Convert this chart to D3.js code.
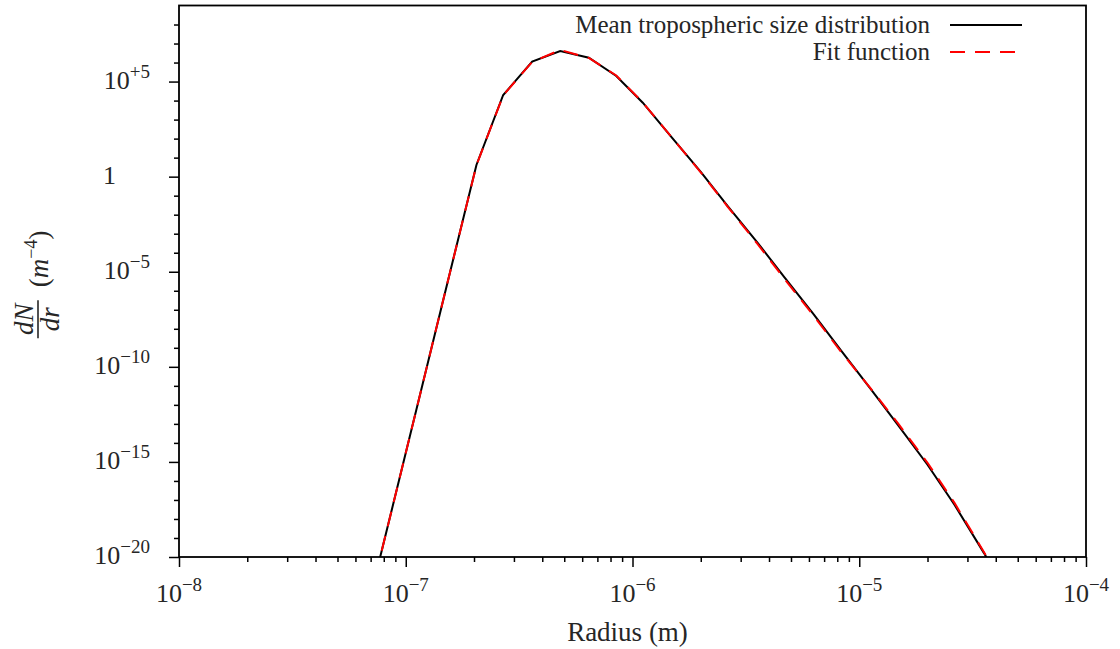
<!DOCTYPE html>
<html>
<head>
<meta charset="utf-8">
<script src="https://cdn.jsdelivr.net/npm/d3@7"></script>
<style>
  body { margin: 0; background: #fff; }
  svg { display: block; }
</style>
</head>
<body>
<svg id="chart" width="1120" height="649"></svg>
<script>
// radius (m) of the sampled points
var radius = [6.53e-8, 8.69e-8, 1.156e-7, 1.538e-7, 2.05e-7, 2.69e-7, 3.61e-7, 4.80e-7,
  6.42e-7, 8.48e-7, 1.11e-6, 1.48e-6, 2.00e-6, 2.63e-6, 3.55e-6, 4.68e-6, 6.31e-6,
  8.32e-6, 1.12e-5, 1.48e-5, 2.00e-5, 2.63e-5, 3.55e-5, 4.68e-5];
// mean tropospheric size distribution dN/dr (m^-4)
var meanDist = [3.2e-24, 3.2e-18, 3.4e-12, 3.7e-6, 4.1, 1.97e4, 1.11e6, 4.06e6,
  1.80e6, 1.96e5, 7.76e3, 126, 1.78, 2.82e-2, 3.55e-4, 5.0e-6, 5.6e-8,
  7.1e-10, 7.1e-12, 8.9e-14, 7.1e-16, 5.6e-18, 1.6e-20, 5.0e-23];
// fit function
var fitDist = [3.2e-24, 3.2e-18, 3.4e-12, 3.7e-6, 4.0, 1.9e4, 1.08e6, 4.6e6,
  1.75e6, 2.1e5, 7.9e3, 130, 1.7, 2.6e-2, 3.0e-4, 4.2e-6, 4.7e-8,
  6.0e-10, 7.5e-12, 1.1e-13, 9.0e-16, 7.0e-18, 1.8e-20, 4.5e-23];

var xMajor = [1e-8, 1e-7, 1e-6, 1e-5, 1e-4];
var xMajorExp = ["\u22128", "\u22127", "\u22126", "\u22125", "\u22124"];
var yMajor = [1e-20, 1e-15, 1e-10, 1e-5, 1, 1e5];
var yMajorExp = ["\u221220", "\u221215", "\u221210", "\u22125", "", "+5"];

var legendLabels = ["Mean tropospheric size distribution", "Fit function"];

var FONT = "'Liberation Serif', 'Times New Roman', serif";
var INK = "#262626";

var svg = d3.select("#chart");
var width = +svg.attr("width");
var height = +svg.attr("height");
var margin = {top: 5.5, right: 34, bottom: 92, left: 179};

var x = d3.scaleLog().domain([1e-8, 1e-4]).range([margin.left, width - margin.right]);
var y = d3.scaleLog().domain([1e-20, 1e9]).range([height - margin.bottom, margin.top]);

// minor ticks
var xMinor = [];
for (var e = -8; e < -4; e++) {
  for (var m = 2; m <= 9; m++) xMinor.push(m * Math.pow(10, e));
}
var yMinor = [];
for (var e2 = -19; e2 <= 8; e2++) {
  if (e2 % 5 !== 0) yMinor.push(Math.pow(10, e2));
}

function txt(sel, size) {
  return sel.style("font-family", FONT).style("font-size", size + "px").style("fill", INK);
}

svg.append("defs").append("clipPath").attr("id", "clip")
  .append("rect")
    .attr("x", margin.left).attr("y", margin.top)
    .attr("width", width - margin.left - margin.right)
    .attr("height", height - margin.top - margin.bottom);

var line = d3.line()
  .x(function(d) { return x(d[0]); })
  .y(function(d) { return y(d[1]); });

var plot = svg.append("g").attr("clip-path", "url(#clip)");

plot.append("path")
  .datum(d3.zip(radius, meanDist))
  .attr("fill", "none")
  .attr("stroke", "#000")
  .attr("stroke-width", 2)
  .attr("d", line);

plot.append("path")
  .datum(d3.zip(radius, fitDist))
  .attr("fill", "none")
  .attr("stroke", "#ff0000")
  .attr("stroke-width", 2)
  .attr("stroke-dasharray", "15,10")
  .attr("d", line);

// axes
var gx = svg.append("g").attr("transform", "translate(0," + (height - margin.bottom) + ")");
gx.call(d3.axisBottom(x).tickValues(xMinor).tickSize(5).tickFormat(""));
gx.append("g").call(d3.axisBottom(x).tickValues(xMajor).tickSize(10).tickFormat(""));
gx.selectAll(".domain").remove();

var gy = svg.append("g").attr("transform", "translate(" + margin.left + ",0)");
gy.call(d3.axisLeft(y).tickValues(yMinor).tickSize(5).tickFormat(""));
gy.append("g").call(d3.axisLeft(y).tickValues(yMajor).tickSize(10).tickFormat(""));
gy.selectAll(".domain").remove();

svg.selectAll(".tick line").attr("stroke", "#000").attr("stroke-width", 1.5);

// frame
svg.append("rect")
  .attr("x", margin.left).attr("y", margin.top)
  .attr("width", width - margin.left - margin.right)
  .attr("height", height - margin.top - margin.bottom)
  .attr("fill", "none")
  .attr("stroke", "#000")
  .attr("stroke-width", 1.8);

// x tick labels
xMajor.forEach(function(v, i) {
  var t = txt(svg.append("text"), 26)
    .attr("x", x(v))
    .attr("y", height - margin.bottom + 45)
    .attr("text-anchor", "middle");
  t.append("tspan").text("10");
  t.append("tspan").attr("dy", -11).style("font-size", "19px").text(xMajorExp[i]);
});

// y tick labels
yMajor.forEach(function(v, i) {
  var t = txt(svg.append("text"), 26)
    .attr("y", y(v) + 7);
  if (yMajorExp[i] === "") {
    t.attr("x", margin.left - 63).attr("text-anchor", "end").text("1");
  } else {
    t.attr("x", margin.left - 29).attr("text-anchor", "end");
    t.append("tspan").text("10");
    t.append("tspan").attr("dy", -11).style("font-size", "19px").text(yMajorExp[i]);
  }
});

// x label
txt(svg.append("text"), 27)
  .attr("x", (margin.left + width - margin.right) / 2 - 5)
  .attr("y", height - 8)
  .attr("text-anchor", "middle")
  .text("Radius (m)");

// y label: dN/dr (m^-4)
var yl = svg.append("g")
  .attr("transform", "translate(38," + ((margin.top + height - margin.bottom) / 2) + ") rotate(-90)");
txt(yl.append("text"), 27).attr("x", -38).attr("y", -5).attr("text-anchor", "middle")
  .style("font-style", "italic").text("dN");
yl.append("line").attr("x1", -57).attr("x2", -19).attr("y1", 0).attr("y2", 0)
  .attr("stroke", INK).attr("stroke-width", 1.6);
txt(yl.append("text"), 27).attr("x", -38).attr("y", 21).attr("text-anchor", "middle")
  .style("font-style", "italic").text("dr");
var yu = txt(yl.append("text"), 27).attr("x", -6).attr("y", 10);
yu.append("tspan").text("(");
yu.append("tspan").style("font-style", "italic").text("m");
yu.append("tspan").attr("dy", -11).style("font-size", "18px").text("\u22124");
yu.append("tspan").attr("dy", 11).text(")");

// legend
var legend = svg.append("g");
var legendY = [25, 52];
legendLabels.forEach(function(lab, i) {
  txt(legend.append("text"), 25)
    .attr("x", 930)
    .attr("y", legendY[i] + 8)
    .attr("text-anchor", "end")
    .text(lab);
  legend.append("line")
    .attr("x1", 950).attr("x2", 1022)
    .attr("y1", legendY[i]).attr("y2", legendY[i])
    .attr("stroke", i === 0 ? "#000" : "#ff0000")
    .attr("stroke-width", 2)
    .attr("stroke-dasharray", i === 0 ? null : "15,10");
});
</script>
</body>
</html>
